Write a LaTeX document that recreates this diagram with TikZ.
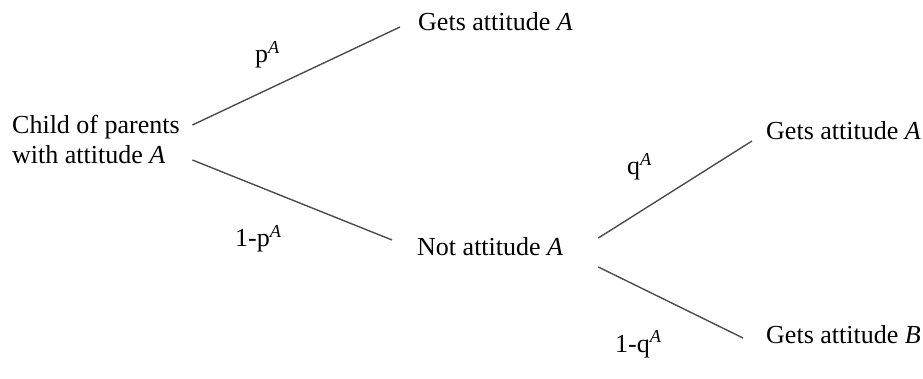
\documentclass[tikz,border=0pt]{standalone}
\usepackage{fontspec}
\setmainfont{Liberation Serif}
\begin{document}
\begin{tikzpicture}[x=1pt,y=1pt,
  txt/.style={inner sep=0pt, font=\fontsize{26}{30}\selectfont, text=black},
  lbl/.style={inner sep=0pt, font=\fontsize{26}{30}\selectfont, text=black, anchor=base west},
  branch/.style={draw=black!70, line width=1.4pt}]
\useasboundingbox (0,0) rectangle (923,-379);
\node[txt, align=left, anchor=west] (child) at (12,-139) {Child of parents\\with attitude \textit{A}};
\node[txt, anchor=base west] (ga1) at (418,-31) {Gets attitude \textit{A}};
\node[txt, anchor=base west] (na) at (417,-256) {Not attitude \textit{A}};
\node[txt, anchor=base west] (ga2) at (766,-140) {Gets attitude \textit{A}};
\node[txt, anchor=base west] (gb) at (766,-343) {Gets attitude \textit{B}};
\node[lbl] (lp) at (255,-63) {p\textsuperscript{\textit{A}}};
\node[lbl] (lnp) at (235,-247) {1-p\textsuperscript{\textit{A}}};
\node[lbl] (lq) at (627,-175) {q\textsuperscript{\textit{A}}};
\node[lbl] (lnq) at (615,-352) {1-q\textsuperscript{\textit{A}}};
\draw[branch] ([shift={(12.5,14)}]child.east) -- ([shift={(-18,4)}]ga1.base west);
\draw[branch] ([shift={(12.5,-21)}]child.east) -- ([shift={(-25,16)}]na.base west);
\draw[branch] ([shift={(35,18)}]na.base east) -- ([shift={(-14,-1)}]ga2.base west);
\draw[branch] ([shift={(35,-11)}]na.base east) -- ([shift={(-23,5)}]gb.base west);
\end{tikzpicture}
\end{document}
